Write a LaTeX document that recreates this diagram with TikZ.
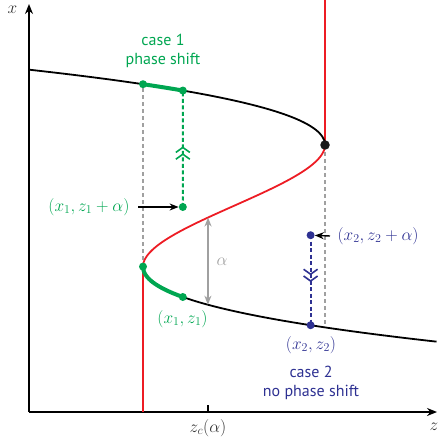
\documentclass[tikz,border=0pt]{standalone}
\usepackage{fontspec}
\newfontfamily\casefont{PT Sans}
\usetikzlibrary{arrows.meta,decorations.markings}
\definecolor{cgreen}{RGB}{0,166,81}
\definecolor{cblue}{RGB}{46,49,146}
\definecolor{cred}{RGB}{237,28,36}
\definecolor{cgray}{RGB}{160,160,160}
\begin{document}
\begin{tikzpicture}[x=1pt,y=-1pt,
  declare function={zf(\r)=234+91*(1.5*\r-0.5*\r*\r*\r); yf(\r)=205.8-60.8*\r;},
  axis/.style={line width=1.8pt,-{Stealth[length=10pt,width=8pt]}},
  curve/.style={line width=1.8pt},
  thick green/.style={line width=4pt,cgreen},
  grayDash/.style={line width=1.8pt,cgray,dash pattern=on 4pt off 3pt},
  chev/.style={decoration={markings,mark=at position 0.52 with {\arrow{Straight Barb[length=5pt,width=14pt,line width=1.6pt] Straight Barb[length=5pt,width=14pt,line width=1.6pt]}}},postaction=decorate},
  dotted line/.style={line width=2pt,dash pattern=on 4pt off 2.5pt},
  dot/.style={circle,fill,inner sep=0pt,minimum size=8pt},
  bigdot/.style={circle,fill,inner sep=0pt,minimum size=9.5pt},
  lab/.style={font=\fontsize{17}{20}\selectfont},
  casetext/.style={font=\casefont\fontsize{16}{19.5}\selectfont,align=center},
  pointer/.style={line width=1.4pt,-{Stealth[length=9pt,width=7pt]}}
]
\useasboundingbox (0,0) rectangle (437,443);
% key points
\coordinate (O) at (29,412);
\coordinate (Ytop) at (29,4);
\coordinate (Xend) at (437,412);
\coordinate (F1) at ({zf(-1)},{yf(-1)});
\coordinate (F2) at ({zf(1)},{yf(1)});
\coordinate (G1) at ({zf(2)},{yf(2)});
\coordinate (G2) at ({zf(1.8955)},{yf(1.8955)});
\coordinate (P1) at ({zf(-1.5)},{yf(-1.5)});
\coordinate (P1a) at ({zf(-1.5)},{yf(-1.5)-90});
\coordinate (Q) at ({zf(-2)},{yf(-2)});
\coordinate (P2) at ({zf(-1.964)},{yf(-1.964)});
\coordinate (P2a) at ({zf(-1.964)},{yf(-1.964)-90});
\coordinate (A1) at ({zf(-0.1925)},{yf(-0.1925)});
\coordinate (A2) at ({zf(-1.627)},{yf(-1.627)});
\coordinate (RedBot) at (F1 |- O);
\coordinate (RedTopEnd) at ({zf(1)},0);
% grey dashed guides
\draw[grayDash] (F1) -- (G1);
\draw[grayDash] (F2) -- ([yshift=3pt]Q);
% axes
\draw[axis] (O) -- (Ytop);
\draw[axis] (O) -- (Xend);
\draw[line width=1.4pt] (208,412) -- (208,405);
\node[lab,text=black!80,inner sep=0pt] (xlab) at (12.5,10) {$x$};
\node[lab,text=black!80] (zlab) at (434,427) {$z$};
\node[lab,text=black!80] (zc) at (208,428) {$z_c(\alpha)$};
% red branches
\draw[curve,cred] (RedBot) -- (F1);
\draw[curve,cred] (F2) -- (RedTopEnd);
\draw[curve,cred] plot[domain=-1:1,samples=60,variable=\r] ({zf(\r)},{yf(\r)});
% black branches
\draw[curve] plot[domain=1:2.238,samples=60,variable=\r] ({zf(\r)},{yf(\r)});
\draw[curve] plot[domain=-1:-2.235,samples=60,variable=\r] ({zf(\r)},{yf(\r)});
% green thick parts
\draw[thick green] plot[domain=2:1.8955,samples=10,variable=\r] ({zf(\r)},{yf(\r)});
\draw[thick green] plot[domain=-1:-1.5,samples=30,variable=\r] ({zf(\r)},{yf(\r)});
% alpha arrow
\draw[line width=1.8pt,cgray,{Stealth[length=9pt,width=7pt]}-{Stealth[length=9pt,width=7pt]}] (A1) -- (A2);
\node[lab,text=cgray] (alab) at (222,262) {$\alpha$};
% case 1
\draw[dotted line,cgreen,chev] (P1a) -- (G2);
\node[dot,cgreen] (g1) at (G1) {};
\node[dot,cgreen] (g2) at (G2) {};
\node[dot,cgreen] (f1) at (F1) {};
\node[dot,cgreen] (p1) at (P1) {};
\node[dot,cgreen] (p1a) at (P1a) {};
\node[lab,text=cgreen,anchor=east] (l1a) at (133,207) {$(x_1,z_1+\alpha)$};
\node[lab,text=cgreen] (l1) at (182.5,319) {$(x_1,z_1)$};
\coordinate (s1) at ([xshift=5pt]l1a.east);
\draw[pointer] (s1) -- (p1a);
\node[casetext,text=cgreen] (c1) at (163,51) {case 1\\phase shift};
% case 2
\draw[dotted line,cblue,chev] (P2a) -- (P2);
\node[dot,cblue] (p2) at (P2) {};
\node[dot,cblue] (p2a) at (P2a) {};
\node[lab,text=cblue,anchor=west] (l2a) at (334,236) {$(x_2,z_2+\alpha)$};
\node[lab,text=cblue] (l2) at (311,345) {$(x_2,z_2)$};
\coordinate (s2) at ([xshift=-4pt]l2a.west);
\draw[pointer] (s2) -- (p2a);
\node[casetext,text=cblue] (c2) at (311,383) {case 2\\no phase shift};
% fold point
\node[bigdot,black!90] (f2) at (F2) {};
\end{tikzpicture}
\end{document}
